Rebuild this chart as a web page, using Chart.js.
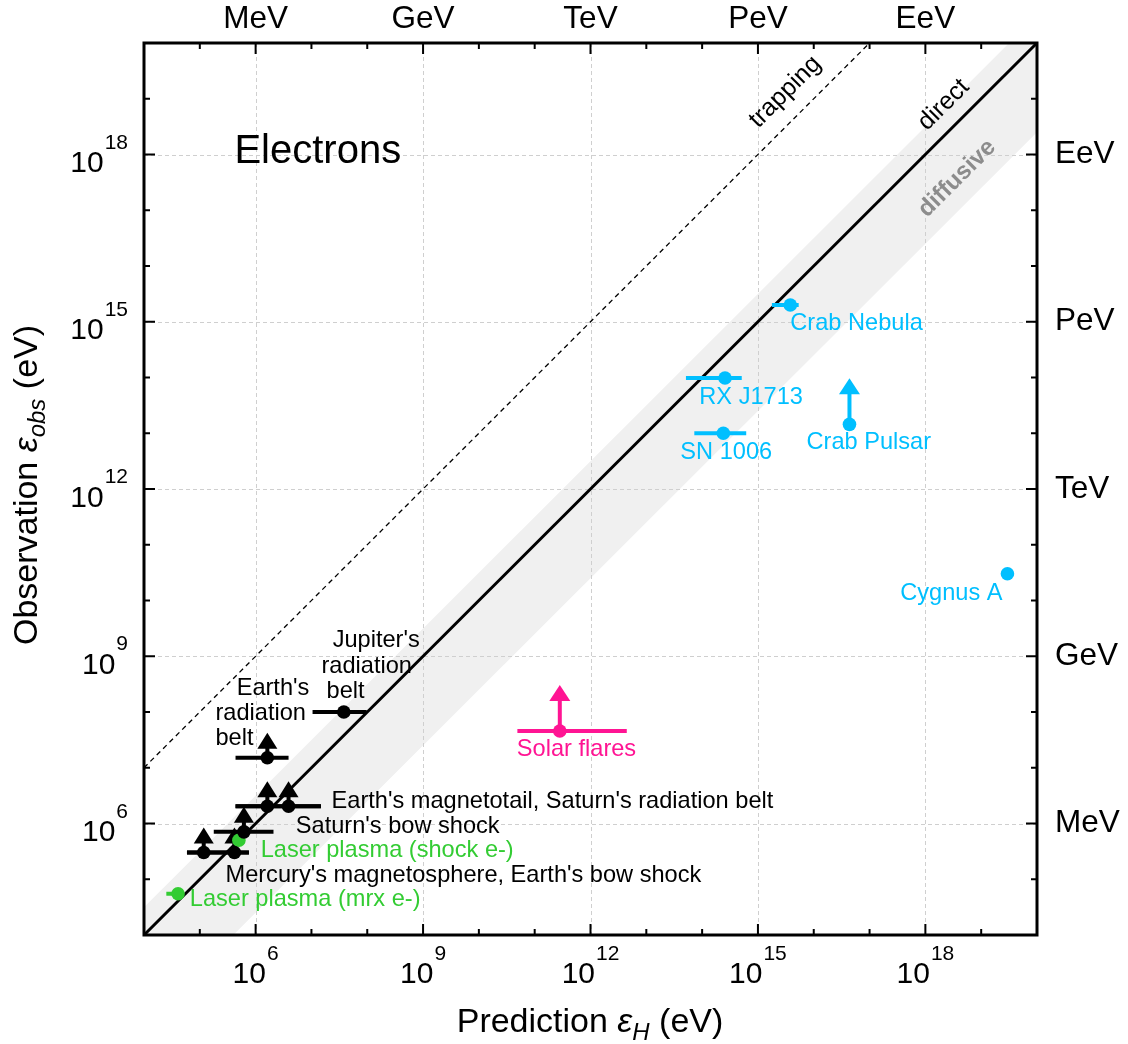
<!DOCTYPE html>
<html>
<head>
<meta charset="utf-8">
<script src="https://cdn.jsdelivr.net/npm/chart.js@4.4.1/dist/chart.umd.min.js"></script>
<style>
  html, body { margin: 0; padding: 0; background: #fff; }
  canvas { display: block; }
</style>
</head>
<body>
<canvas id="chart" width="1128" height="1044"></canvas>
<script>
// all values are log10 of the energy in eV
const axisMinExp = 4;
const axisMaxExp = 20;
const majorExps = [6, 9, 12, 15, 18];
const unitLabels = ['MeV', 'GeV', 'TeV', 'PeV', 'EeV'];

// regimes: trapping line sits 3 decades above direct, diffusive band around direct
const trappingOffset = 3;
const bandUpper = 0.5;
const bandLower = -1.6;

// space plasmas (black)
const spacePred   = [7.58, 6.21, 6.21, 6.59, 5.79, 5.07, 5.62];
const spaceObs    = [8.00, 7.18, 6.31, 6.31, 5.85, 5.48, 5.48];
const spacePredLo = [7.02, 5.64, 5.64, 5.64, 5.25, 4.77, 4.77];
const spacePredHi = [7.99, 6.59, 7.17, 7.17, 6.32, 5.88, 5.88];
const spaceLimit  = [false, true, true, true, true, true, true];

// laser plasmas (green)
const laserPred   = [5.70, 4.61];
const laserObs    = [5.70, 4.74];
const laserPredLo = [null, 4.40];
const laserPredHi = [null, 4.61];
const laserLimit  = [false, false];

// astrophysical sources (blue): Crab Nebula, RX J1713, SN 1006, Crab Pulsar, Cygnus A
const astroPred   = [15.58, 14.41, 14.38, 16.64, 19.47];
const astroObs    = [15.30, 13.99, 13.00, 13.16, 10.48];
const astroPredLo = [15.25, 13.71, 13.86, null, 19.36];
const astroPredHi = [15.73, 14.71, 14.79, null, 19.58];
const astroLimit  = [false, false, false, true, false];

// solar flares (pink)
const solarPred   = [11.45];
const solarObs    = [7.66];
const solarPredLo = [10.69];
const solarPredHi = [12.65];
const solarLimit  = [true];

const FONT = '"Liberation Sans", Arial, Helvetica, sans-serif';
const toVal = e => Math.pow(10, e);
const pt = (x, y) => ({ x: toVal(x), y: toVal(y) });

const groups = [
  { label: 'space', color: '#000000', pred: spacePred, obs: spaceObs, lo: spacePredLo, hi: spacePredHi, limit: spaceLimit, arrow: 25, triW: 20, triH: 16 },
  { label: 'laser', color: '#33cc33', pred: laserPred, obs: laserObs, lo: laserPredLo, hi: laserPredHi, limit: laserLimit, arrow: 25, triW: 20, triH: 16 },
  { label: 'astro', color: '#00bfff', pred: astroPred, obs: astroObs, lo: astroPredLo, hi: astroPredHi, limit: astroLimit, arrow: 46, triW: 21, triH: 16 },
  { label: 'solar', color: '#ff1493', pred: solarPred, obs: solarObs, lo: solarPredLo, hi: solarPredHi, limit: solarLimit, arrow: 46, triW: 21, triH: 16 }
];

// text annotations: [text, x exp, y exp, colour]
const labels = [
  ["Jupiter's", 7.38, 9.29, '#000'],
  ['radiation', 7.18, 8.82, '#000'],
  ['belt', 7.27, 8.37, '#000'],
  ["Earth's", 5.66, 8.43, '#000'],
  ['radiation', 5.28, 7.98, '#000'],
  ['belt', 5.28, 7.53, '#000'],
  ["Earth's magnetotail, Saturn's radiation belt", 7.36, 6.40, '#000'],
  ["Saturn's bow shock", 6.72, 5.95, '#000'],
  ['Laser plasma (shock e-)', 6.09, 5.52, '#33cc33'],
  ["Mercury's magnetosphere, Earth's bow shock", 5.46, 5.06, '#000'],
  ['Laser plasma (mrx e-)', 4.82, 4.63, '#33cc33'],
  ['Crab Nebula', 15.58, 14.96, '#00bfff'],
  ['RX J1713', 13.95, 13.65, '#00bfff'],
  ['SN 1006', 13.61, 12.66, '#00bfff'],
  ['Crab Pulsar', 15.87, 12.84, '#00bfff'],
  ['Cygnus A', 17.55, 10.13, '#00bfff'],
  ['Solar flares', 10.68, 7.32, '#ff1493']
];
const slantLabels = [
  ['trapping', 15.49, 19.12, '#000', '', 25],
  ['direct', 18.33, 18.89, '#000', '', 25],
  ['diffusive', 18.57, 17.57, '#8c8c8c', 'bold ', 24]
];

const datasets = groups.map(g => ({
  label: g.label,
  data: g.pred.map((p, i) => pt(p, g.obs[i])),
  backgroundColor: g.color,
  borderColor: g.color,
  borderWidth: 0,
  pointRadius: 6.8,
  pointHoverRadius: 6.8,
  showLine: false,
  order: 0
}));
datasets.push({
  label: 'direct', role: 'direct',
  data: [pt(axisMinExp, axisMinExp), pt(axisMaxExp, axisMaxExp)],
  showLine: true, borderColor: '#000', borderWidth: 3, pointRadius: 0, fill: false, order: 1
});
datasets.push({
  label: 'trapping',
  data: [pt(axisMinExp, axisMinExp + trappingOffset), pt(axisMaxExp - trappingOffset, axisMaxExp)],
  showLine: true, borderColor: '#000', borderWidth: 1.3, borderDash: [5, 4], pointRadius: 0, fill: false, order: 2
});
datasets.push({
  label: 'diffusive', role: 'band',
  data: [pt(2, 2 + bandUpper), pt(22, 22 + bandUpper), pt(22, 22 + bandLower), pt(2, 2 + bandLower)],
  showLine: true, borderWidth: 0, borderColor: 'rgba(0,0,0,0)', backgroundColor: '#f0f0f0',
  pointRadius: 0, fill: 'shape', order: 3
});

function decadeTicks() {
  const t = [];
  for (let e = axisMinExp; e <= axisMaxExp; e++) t.push({ value: toVal(e), major: majorExps.includes(e) });
  return t;
}

const decorations = {
  id: 'decorations',
  afterDatasetDraw(chart, args) {
    const ds = chart.data.datasets[args.index];
    const ctx = chart.ctx, a = chart.chartArea;
    const xs = chart.scales.x, ys = chart.scales.y;
    if (ds.role === 'band') {
      // dashed grid at the major decades, over the band
      ctx.save();
      ctx.strokeStyle = '#cfcfcf';
      ctx.lineWidth = 1;
      ctx.setLineDash([4, 3]);
      majorExps.forEach(e => {
        const px = Math.round(xs.getPixelForValue(toVal(e))) + 0.5;
        const py = Math.round(ys.getPixelForValue(toVal(e))) + 0.5;
        ctx.beginPath(); ctx.moveTo(px, a.top); ctx.lineTo(px, a.bottom); ctx.stroke();
        ctx.beginPath(); ctx.moveTo(a.left, py); ctx.lineTo(a.right, py); ctx.stroke();
      });
      ctx.restore();
    }
    if (ds.role === 'direct') {
      // horizontal error bars and lower-limit arrows
      ctx.save();
      groups.forEach(g => {
        ctx.strokeStyle = g.color;
        ctx.fillStyle = g.color;
        ctx.lineWidth = 4;
        g.pred.forEach((p, i) => {
          const cy = ys.getPixelForValue(toVal(g.obs[i]));
          const cx = xs.getPixelForValue(toVal(p));
          if (g.lo[i] !== null) {
            ctx.beginPath();
            ctx.moveTo(xs.getPixelForValue(toVal(g.lo[i])), cy);
            ctx.lineTo(xs.getPixelForValue(toVal(g.hi[i])), cy);
            ctx.stroke();
          }
          if (g.limit[i]) {
            const tip = cy - g.arrow;
            ctx.beginPath();
            ctx.moveTo(cx, cy);
            ctx.lineTo(cx, tip + g.triH - 1);
            ctx.stroke();
            ctx.beginPath();
            ctx.moveTo(cx, tip);
            ctx.lineTo(cx + g.triW / 2, tip + g.triH);
            ctx.lineTo(cx - g.triW / 2, tip + g.triH);
            ctx.closePath();
            ctx.fill();
          }
        });
      });
      ctx.restore();
    }
  },
  afterDraw(chart) {
    const ctx = chart.ctx, a = chart.chartArea;
    const xs = chart.scales.x, ys = chart.scales.y;
    ctx.save();
    // inward ticks on all four sides
    ctx.strokeStyle = '#000';
    ctx.lineWidth = 2;
    for (let e = axisMinExp + 1; e < axisMaxExp; e++) {
      const len = majorExps.includes(e) ? 11 : 6;
      const px = xs.getPixelForValue(toVal(e));
      const py = ys.getPixelForValue(toVal(e));
      ctx.beginPath();
      ctx.moveTo(px, a.bottom); ctx.lineTo(px, a.bottom - len);
      ctx.moveTo(px, a.top); ctx.lineTo(px, a.top + len);
      ctx.moveTo(a.left, py); ctx.lineTo(a.left + len, py);
      ctx.moveTo(a.right, py); ctx.lineTo(a.right - len, py);
      ctx.stroke();
    }
    ctx.lineWidth = 3;
    ctx.strokeRect(a.left, a.top, a.right - a.left, a.bottom - a.top);

    // annotations
    ctx.textBaseline = 'middle';
    ctx.textAlign = 'left';
    ctx.font = '23.6px ' + FONT;
    labels.forEach(([t, x, y, c]) => {
      ctx.fillStyle = c;
      ctx.fillText(t, xs.getPixelForValue(toVal(x)), ys.getPixelForValue(toVal(y)));
    });
    ctx.font = '40px ' + FONT;
    ctx.fillStyle = '#000';
    ctx.fillText('Electrons', xs.getPixelForValue(toVal(5.62)), ys.getPixelForValue(toVal(18.04)));
    slantLabels.forEach(([t, x, y, c, w, size]) => {
      ctx.save();
      ctx.translate(xs.getPixelForValue(toVal(x)), ys.getPixelForValue(toVal(y)));
      ctx.rotate(-Math.PI / 4);
      ctx.textAlign = 'center';
      ctx.font = w + size + 'px ' + FONT;
      ctx.fillStyle = c;
      ctx.fillText(t, 0, 0);
      ctx.restore();
    });

    // tick labels: powers of ten bottom/left, units top/right
    ctx.textBaseline = 'alphabetic';
    ctx.fillStyle = '#000';
    majorExps.forEach((e, k) => {
      const px = xs.getPixelForValue(toVal(e));
      const py = ys.getPixelForValue(toVal(e));
      ctx.font = '30px ' + FONT;
      const wb = ctx.measureText('10').width;
      ctx.font = '21px ' + FONT;
      const ws = ctx.measureText(String(e)).width;
      const tot = wb + ws + 1;
      // bottom
      let left = px - tot / 2;
      ctx.textAlign = 'left';
      ctx.font = '30px ' + FONT;
      ctx.fillText('10', left, a.bottom + 48);
      ctx.font = '21px ' + FONT;
      ctx.fillText(String(e), left + wb + 1, a.bottom + 25);
      // left
      left = a.left - 16 - tot;
      ctx.font = '30px ' + FONT;
      ctx.fillText('10', left, py + 17.5);
      ctx.font = '21px ' + FONT;
      ctx.fillText(String(e), left + wb + 1, py - 6);
      // top and right units
      ctx.font = '31.5px ' + FONT;
      ctx.textAlign = 'center';
      ctx.fillText(unitLabels[k], px, a.top - 15);
      ctx.textAlign = 'left';
      ctx.fillText(unitLabels[k], a.right + 18, py + 8.5);
    });

    // axis titles
    const drawParts = (parts, x, y) => {
      let w = 0;
      parts.forEach(p => { ctx.font = p[1] + FONT; w += ctx.measureText(p[0]).width; });
      let cx = x - w / 2;
      ctx.textAlign = 'left';
      parts.forEach(p => {
        ctx.font = p[1] + FONT;
        ctx.fillText(p[0], cx, y + (p[2] || 0));
        cx += ctx.measureText(p[0]).width;
      });
    };
    drawParts([['Prediction ', '34px '], ['ε', 'italic 34px '], ['H', 'italic 24px ', 8], [' (eV)', '34px ']], 590, 1032);
    ctx.save();
    ctx.translate(37, 485);
    ctx.rotate(-Math.PI / 2);
    drawParts([['Observation ', '34px '], ['ε', 'italic 34px '], ['obs', 'italic 24px ', 8], [' (eV)', '34px ']], 0, 0);
    ctx.restore();
    ctx.restore();
  }
};

new Chart(document.getElementById('chart'), {
  type: 'scatter',
  data: { datasets },
  options: {
    responsive: false,
    animation: false,
    devicePixelRatio: 1,
    layout: { padding: { left: 144, top: 43, right: 91, bottom: 109 } },
    plugins: { legend: { display: false }, tooltip: { enabled: false } },
    scales: {
      x: { type: 'logarithmic', display: false, min: toVal(axisMinExp), max: toVal(axisMaxExp), afterBuildTicks: s => { s.ticks = decadeTicks(); } },
      y: { type: 'logarithmic', display: false, min: toVal(axisMinExp), max: toVal(axisMaxExp), afterBuildTicks: s => { s.ticks = decadeTicks(); } }
    }
  },
  plugins: [decorations]
});
</script>
</body>
</html>
